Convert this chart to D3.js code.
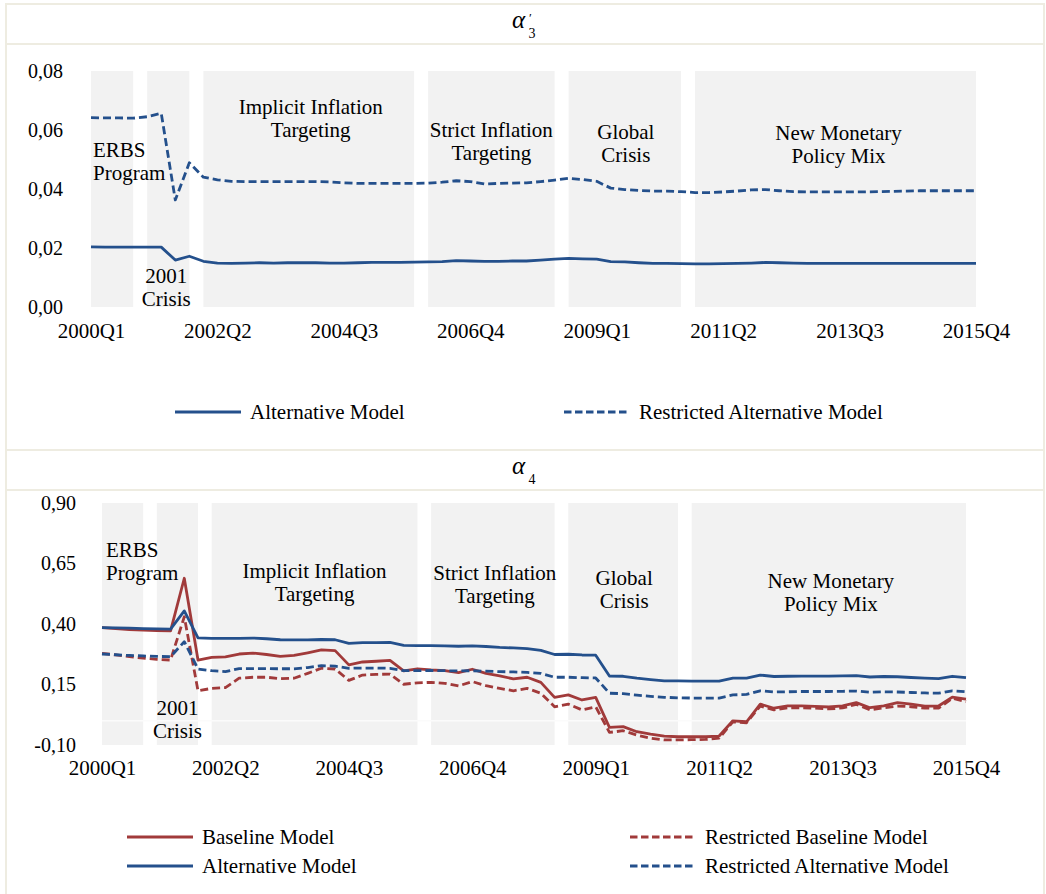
<!DOCTYPE html>
<html>
<head>
<meta charset="utf-8">
<script src="https://cdn.jsdelivr.net/npm/d3@7"></script>
<style>
  body { margin: 0; background: #fff; }
</style>
</head>
<body>
<svg id="chart" width="1046" height="894"></svg>
<script>
// ---- Quarter axis (2000Q1 .. 2015Q4, 64 quarters, index 0..63) ----
const nQuarters = 64;
const xTickIdx = [0, 9, 18, 27, 36, 45, 54, 63];
const xTickLabels = ["2000Q1", "2002Q2", "2004Q3", "2006Q4", "2009Q1", "2011Q2", "2013Q3", "2015Q4"];

// ---- Policy periods (quarter index range) ----
const periodStart = [0, 4, 8, 24, 34, 43];
const periodEnd   = [3, 7, 23, 33, 42, 63];
const periodLines = [
  ["ERBS", "Program"],
  ["2001", "Crisis"],
  ["Implicit Inflation", "Targeting"],
  ["Strict Inflation", "Targeting"],
  ["Global", "Crisis"],
  ["New Monetary", "Policy Mix"]
];

// ---- alpha'_3 ----
const a3Alternative = [
  0.0204, 0.0203, 0.0203, 0.0203, 0.0203, 0.0203, 0.0159, 0.0172,
  0.0155, 0.0149, 0.0148, 0.0149, 0.0150, 0.0149, 0.0150, 0.0150,
  0.0150, 0.0149, 0.0149, 0.0150, 0.0151, 0.0151, 0.0151, 0.0152,
  0.0153, 0.0154, 0.0157, 0.0156, 0.0155, 0.0155, 0.0156, 0.0156,
  0.0159, 0.0162, 0.0165, 0.0163, 0.0162, 0.0154, 0.0153, 0.0150,
  0.0148, 0.0148, 0.0147, 0.0146, 0.0146, 0.0147, 0.0148, 0.0149,
  0.0151, 0.0150, 0.0149, 0.0148, 0.0148, 0.0148, 0.0148, 0.0148,
  0.0148, 0.0148, 0.0148, 0.0148, 0.0148, 0.0148, 0.0148, 0.0148
];
const a3RestrictedAlternative = [
  0.0642, 0.0641, 0.0641, 0.0640, 0.0645, 0.0657, 0.0363, 0.0489,
  0.0440, 0.0431, 0.0426, 0.0425, 0.0425, 0.0425, 0.0425, 0.0425,
  0.0425, 0.0424, 0.0421, 0.0419, 0.0419, 0.0419, 0.0419, 0.0419,
  0.0420, 0.0423, 0.0428, 0.0425, 0.0417, 0.0419, 0.0420, 0.0421,
  0.0425, 0.0430, 0.0436, 0.0432, 0.0426, 0.0403, 0.0398, 0.0395,
  0.0393, 0.0393, 0.0391, 0.0388, 0.0388, 0.0390, 0.0393, 0.0397,
  0.0398, 0.0394, 0.0391, 0.0390, 0.0390, 0.0390, 0.0390, 0.0390,
  0.0391, 0.0392, 0.0393, 0.0394, 0.0394, 0.0394, 0.0394, 0.0394
];
const a3Ticks = [0, 0.02, 0.04, 0.06, 0.08];

// ---- alpha_4 ----
const a4Baseline = [
  0.385, 0.381, 0.377, 0.375, 0.373, 0.372, 0.589, 0.251,
  0.262, 0.264, 0.276, 0.280, 0.274, 0.266, 0.270, 0.281,
  0.293, 0.290, 0.231, 0.243, 0.246, 0.250, 0.206, 0.215,
  0.210, 0.207, 0.199, 0.213, 0.196, 0.186, 0.173, 0.180,
  0.159, 0.097, 0.107, 0.086, 0.097, -0.027, -0.024, -0.045,
  -0.055, -0.063, -0.066, -0.066, -0.066, -0.063, 0.000, -0.004,
  0.069, 0.052, 0.062, 0.062, 0.060, 0.057, 0.062, 0.075,
  0.054, 0.062, 0.075, 0.069, 0.061, 0.061, 0.098, 0.090
];
const a4RestrictedBaseline = [
  0.279, 0.272, 0.265, 0.259, 0.254, 0.251, 0.430, 0.124,
  0.134, 0.137, 0.176, 0.180, 0.180, 0.174, 0.176, 0.196,
  0.217, 0.214, 0.167, 0.189, 0.192, 0.193, 0.151, 0.157,
  0.159, 0.155, 0.144, 0.162, 0.145, 0.134, 0.124, 0.134,
  0.114, 0.058, 0.069, 0.045, 0.058, -0.048, -0.041, -0.059,
  -0.072, -0.079, -0.079, -0.078, -0.077, -0.072, -0.004, -0.008,
  0.061, 0.045, 0.054, 0.054, 0.052, 0.049, 0.053, 0.068,
  0.045, 0.054, 0.061, 0.058, 0.052, 0.052, 0.093, 0.079
];
const a4Alternative = [
  0.385, 0.384, 0.383, 0.381, 0.380, 0.379, 0.454, 0.343,
  0.341, 0.341, 0.341, 0.342, 0.339, 0.335, 0.334, 0.334,
  0.336, 0.335, 0.320, 0.323, 0.323, 0.324, 0.312, 0.311,
  0.311, 0.310, 0.308, 0.310, 0.307, 0.303, 0.301, 0.298,
  0.291, 0.274, 0.275, 0.272, 0.271, 0.185, 0.184, 0.176,
  0.170, 0.165, 0.165, 0.164, 0.164, 0.164, 0.176, 0.176,
  0.189, 0.183, 0.184, 0.185, 0.185, 0.185, 0.186, 0.187,
  0.181, 0.183, 0.182, 0.179, 0.176, 0.174, 0.184, 0.178
];
const a4RestrictedAlternative = [
  0.276, 0.273, 0.270, 0.268, 0.266, 0.265, 0.327, 0.214,
  0.207, 0.203, 0.216, 0.216, 0.216, 0.215, 0.215, 0.220,
  0.228, 0.226, 0.217, 0.218, 0.218, 0.217, 0.207, 0.207,
  0.208, 0.207, 0.206, 0.207, 0.205, 0.203, 0.202, 0.200,
  0.196, 0.180, 0.180, 0.178, 0.177, 0.114, 0.112, 0.106,
  0.101, 0.097, 0.095, 0.094, 0.094, 0.094, 0.107, 0.109,
  0.124, 0.119, 0.120, 0.121, 0.121, 0.121, 0.122, 0.123,
  0.118, 0.120, 0.119, 0.117, 0.115, 0.114, 0.124, 0.120
];
const a4Ticks = [-0.10, 0.15, 0.40, 0.65, 0.90];

// ---- styles ----
const FONT = "Liberation Serif";
const BLUE = "#24508c";
const RED = "#a13a3a";
const SHADE = "#f2f2f2";
const BORDER = "#eeece1";

const fmt = d3.formatLocale({ decimal: ",", thousands: ".", grouping: [3], currency: ["", ""], minus: "-" }).format(".2f");

const svg = d3.select("#chart");

function txt(parent, x, y, size, s) {
  return parent.append("text")
    .attr("x", x).attr("y", y)
    .attr("font-family", FONT).attr("font-size", size)
    .attr("fill", "#000")
    .text(s);
}

// table frame
const frame = svg.append("g").attr("stroke", BORDER).attr("stroke-width", 2);
[4, 44, 450, 490].forEach(yy => frame.append("line").attr("x1", 5).attr("x2", 1044).attr("y1", yy).attr("y2", yy));
[6, 1044].forEach(xx => frame.append("line").attr("x1", xx).attr("x2", xx).attr("y1", 3).attr("y2", 894));

// panel titles
function title(yBase, sub, prime) {
  txt(svg, 512, yBase, 25, "α").attr("font-style", "italic");
  if (prime) txt(svg, 529, yBase - 6, 13, "′");
  txt(svg, 528.5, yBase + 10, 14, sub);
}
title(28, "3", true);
title(474, "4", false);

function drawPanel(cfg) {
  const g = svg.append("g");
  const x = d3.scaleLinear().domain([0, nQuarters - 1]).range(cfg.xRange);
  const y = d3.scaleLinear().domain(cfg.yDomain).range(cfg.yRange);
  const top = cfg.yRange[1], bottom = cfg.yRange[0];

  const periods = periodStart.map((s, i) => ({ start: s, end: periodEnd[i], lines: periodLines[i] }));

  // shaded policy periods
  g.selectAll("rect.period").data(periods).join("rect")
    .attr("class", "period")
    .attr("x", d => x(d.start))
    .attr("width", d => x(d.end) - x(d.start))
    .attr("y", top)
    .attr("height", bottom - top)
    .attr("fill", SHADE);

  // zero line
  if (cfg.yDomain[0] < 0) {
    g.append("line").attr("x1", x(0)).attr("x2", x(nQuarters - 1))
      .attr("y1", y(0)).attr("y2", y(0))
      .attr("stroke", "#fbfbfb").attr("stroke-width", 1.5);
  }

  // period labels
  periods.forEach((p, i) => {
    const lab = cfg.labels[i];
    const cx = lab.anchor === "start" ? x(p.start) + lab.dx : (x(p.start) + x(p.end)) / 2 + lab.dx;
    p.lines.forEach((ln, k) => {
      txt(g, cx, top + lab.dy + k * cfg.lineGap, 21, ln).attr("text-anchor", lab.anchor);
    });
  });

  // y axis
  const ya = g.append("g").attr("transform", `translate(${cfg.yLabelRight},0)`)
    .call(d3.axisLeft(y).tickValues(cfg.yTicks).tickFormat(fmt).tickSize(0).tickPadding(0));
  ya.select(".domain").remove();
  ya.attr("font-family", FONT).attr("font-size", 20);
  ya.selectAll("text").attr("fill", "#000");

  // x axis
  const xa = g.append("g").attr("transform", `translate(0,${cfg.xLabelY})`)
    .call(d3.axisBottom(x).tickValues(xTickIdx).tickFormat((d, i) => xTickLabels[i]).tickSize(0).tickPadding(0));
  xa.select(".domain").remove();
  xa.attr("font-family", FONT).attr("font-size", 21);
  xa.selectAll("text").attr("fill", "#000");

  // series
  const line = d3.line().x((d, i) => x(i)).y(d => y(d));
  cfg.series.forEach(s => {
    g.append("path").datum(s.values)
      .attr("d", line)
      .attr("fill", "none")
      .attr("stroke", s.color)
      .attr("stroke-width", 2.8)
      .attr("stroke-linejoin", "round")
      .attr("stroke-dasharray", s.dashed ? "8,4" : null);
  });

  // legend
  cfg.legend.forEach(l => {
    const s = cfg.series[l.series];
    g.append("line").attr("x1", l.x).attr("x2", l.x + 66).attr("y1", l.y).attr("y2", l.y)
      .attr("stroke", s.color).attr("stroke-width", 3)
      .attr("stroke-dasharray", s.dashed ? "7.5,3.5" : null);
    txt(g, l.x + 75, l.y + 7, 21, s.name);
  });
}

drawPanel({
  xRange: [91, 976],
  yDomain: [0, 0.08],
  yRange: [307, 71],
  yTicks: a3Ticks,
  yLabelRight: 63,
  xLabelY: 323,
  lineGap: 23,
  labels: [
    { anchor: "start", dx: 2, dy: 86 },
    { anchor: "middle", dx: -2, dy: 212 },
    { anchor: "middle", dx: 2, dy: 43 },
    { anchor: "middle", dx: 0, dy: 66 },
    { anchor: "middle", dx: 1, dy: 68 },
    { anchor: "middle", dx: 3, dy: 69 }
  ],
  series: [
    { name: "Alternative Model", values: a3Alternative, color: BLUE, dashed: false },
    { name: "Restricted Alternative Model", values: a3RestrictedAlternative, color: BLUE, dashed: true }
  ],
  legend: [
    { series: 0, x: 175, y: 412 },
    { series: 1, x: 564, y: 412 }
  ]
});

drawPanel({
  xRange: [102, 966],
  yDomain: [-0.10, 0.90],
  yRange: [745, 503],
  yTicks: a4Ticks,
  yLabelRight: 76,
  xLabelY: 760,
  lineGap: 23,
  labels: [
    { anchor: "start", dx: 4, dy: 54 },
    { anchor: "middle", dx: 0, dy: 212 },
    { anchor: "middle", dx: 0, dy: 75 },
    { anchor: "middle", dx: 2, dy: 77 },
    { anchor: "middle", dx: 1, dy: 82 },
    { anchor: "middle", dx: 2, dy: 85 }
  ],
  series: [
    { name: "Baseline Model", values: a4Baseline, color: RED, dashed: false },
    { name: "Restricted Baseline Model", values: a4RestrictedBaseline, color: RED, dashed: true },
    { name: "Alternative Model", values: a4Alternative, color: BLUE, dashed: false },
    { name: "Restricted Alternative Model", values: a4RestrictedAlternative, color: BLUE, dashed: true }
  ],
  legend: [
    { series: 0, x: 127, y: 837 },
    { series: 1, x: 630, y: 837 },
    { series: 2, x: 127, y: 866 },
    { series: 3, x: 630, y: 866 }
  ]
});
</script>
</body>
</html>
